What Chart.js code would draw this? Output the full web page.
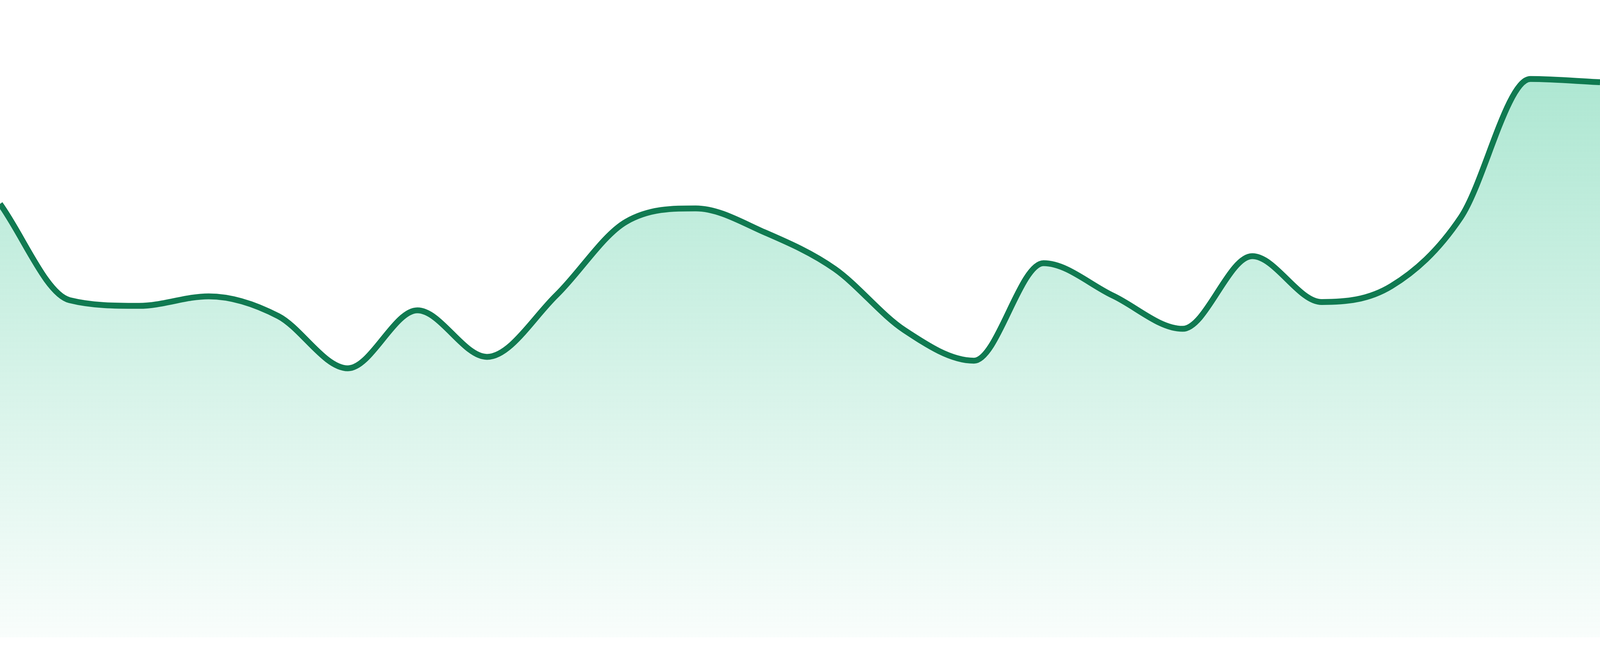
<!DOCTYPE html>
<html>
<head>
<meta charset="utf-8">
<script src="https://cdn.jsdelivr.net/npm/chart.js@4"></script>
<style>
  html, body { margin: 0; padding: 0; background: #ffffff; overflow: hidden; }
  #wrap { position: fixed; left: 0; top: 0; width: 100vw; height: 100vh; }
</style>
</head>
<body>
<div id="wrap"><canvas id="c"></canvas></div>
<script>
const labels = ['1','2','3','4','5','6','7','8','9','10','11','12','13','14','15','16','17','18','19','20','21','22','23','24'];
const values = [68.0, 52.9, 52.0, 53.5, 50.4, 42.2, 51.3, 44.0, 53.7, 65.2, 67.3, 63.5, 57.8, 48.2, 43.4, 58.7, 53.6, 48.4, 59.8, 52.6, 55.1, 65.9, 87.6, 87.1];
const yMin = 0;
const yMax = 100;
const lineColor = '#107a51';

// reference is 1680 px tall; scale stroke and padding to the viewport height
const k = window.innerHeight / 1680;

function areaGradient(context) {
  const chart = context.chart;
  const area = chart.chartArea;
  if (!area) return 'rgba(52,195,143,0.3)';
  const g = chart.ctx.createLinearGradient(0, area.top, 0, area.bottom);
  g.addColorStop(0, 'rgba(52,195,143,0.45)');
  g.addColorStop(1, 'rgba(52,195,143,0.03)');
  return g;
}

new Chart(document.getElementById('c'), {
  type: 'line',
  data: {
    labels: labels,
    datasets: [{
      data: values,
      borderColor: lineColor,
      borderWidth: 15 * k,
      backgroundColor: areaGradient,
      fill: 'start',
      pointRadius: 0,
      cubicInterpolationMode: 'monotone'
    }]
  },
  options: {
    responsive: true,
    maintainAspectRatio: false,
    animation: false,
    layout: { padding: { left: 0, right: 0, top: 0, bottom: 48 * k } },
    plugins: { legend: { display: false }, tooltip: { enabled: false } },
    scales: {
      x: { display: false, offset: false },
      y: { display: false, min: yMin, max: yMax }
    }
  }
});
</script>
</body>
</html>
